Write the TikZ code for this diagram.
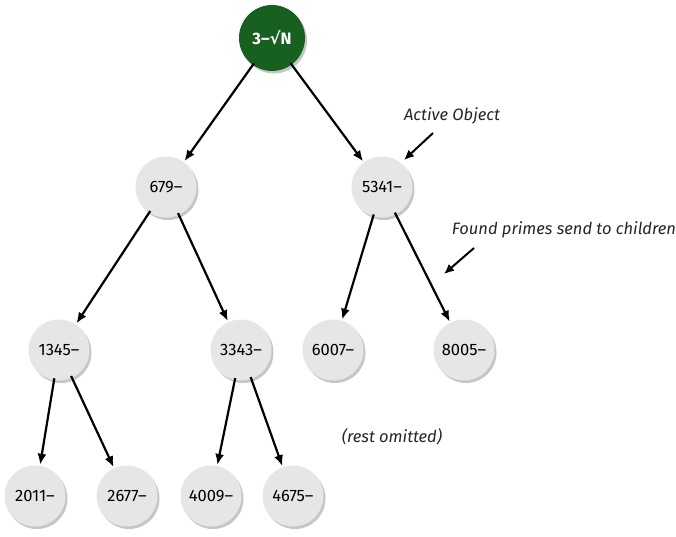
\documentclass[tikz,border=0pt]{standalone}
\usepackage{fontspec}
\setmainfont{Fira Sans}
\newfontfamily\symfont{DejaVu Sans}
\usetikzlibrary{arrows.meta,shadows}
\definecolor{rootgreen}{RGB}{24,96,32}
\definecolor{nodegray}{RGB}{230,230,230}
\tikzset{
  tnode/.style={circle, fill=nodegray, minimum size=61pt, inner sep=0pt,
    font=\fontsize{16.5}{16.5}\selectfont,
    drop shadow={opacity=0.45, shadow xshift=2pt, shadow yshift=-2.5pt}},
  rootnode/.style={tnode, fill=rootgreen, minimum size=66pt, text=white,
    font=\fontsize{16.5}{16.5}\selectfont\bfseries},
  edge/.style={-{Latex[length=11pt,width=9pt]}, line width=2.2pt, shorten <=-2pt, shorten >=1pt},
  note/.style={font=\fontsize{16.5}{16.5}\selectfont\itshape, text=black!85},
}
\begin{document}
\begin{tikzpicture}[x=1pt,y=-1pt]
\useasboundingbox (0,0) rectangle (676,536);
\node[rootnode] (r) at (272,38) {3–{\symfont\bfseries √}N};
\node[tnode] (a) at (166,187) {679–};
\node[tnode] (b) at (382,187) {5341–};
\node[tnode] (c) at (59,350) {1345–};
\node[tnode] (d) at (241,350) {3343–};
\node[tnode] (e) at (333,350) {6007–};
\node[tnode] (f) at (464,350) {8005–};
\node[tnode] (g) at (35,496) {2011–};
\node[tnode] (h) at (127,496) {2677–};
\node[tnode] (i) at (211,496) {4009–};
\node[tnode] (j) at (293,496) {4675–};
\foreach \s/\t in {r/a,r/b,a/c,a/d,b/e,b/f,c/g,c/h,d/i,d/j}
  \draw[edge] (\s) -- (\t);
\node[note] (n1) at (452,116) {Active Object};
\node[note] (n2) at (564,230) {Found primes send to children};
\node[note] (n3) at (392,437) {(rest omitted)};
\coordinate (p1s) at (433,133);
\coordinate (p1e) at (404,160);
\coordinate (p2s) at (474,248);
\coordinate (p2e) at (444,274);
\draw[-{Latex[length=10pt,width=9pt]}, line width=2pt] (p1s) -- (p1e);
\draw[-{Latex[length=10pt,width=9pt]}, line width=2pt] (p2s) -- (p2e);
\end{tikzpicture}
\end{document}
